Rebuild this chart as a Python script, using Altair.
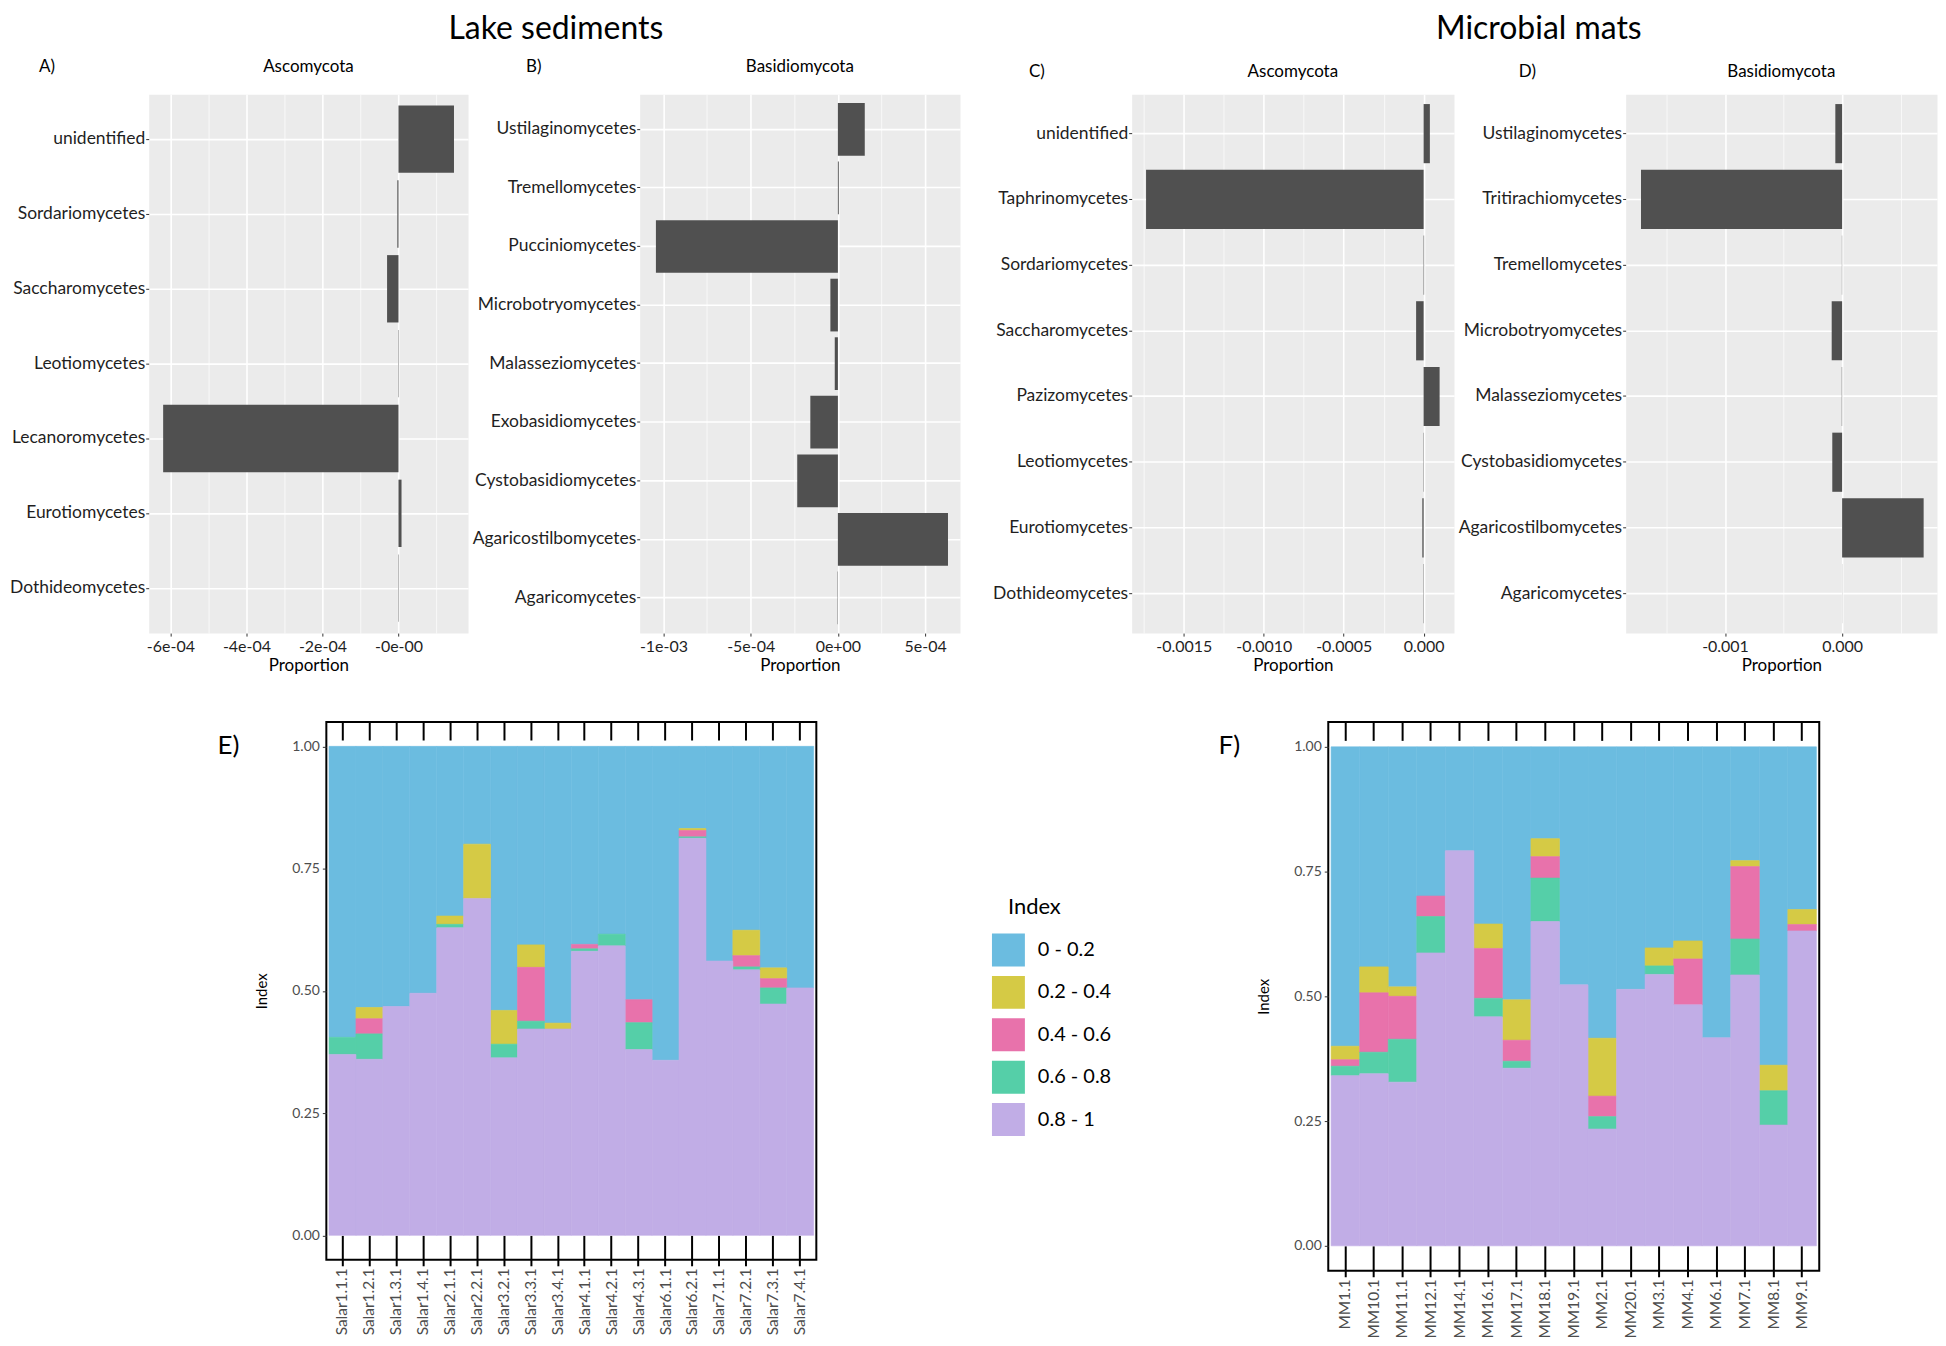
import json
import altair as alt
import pandas as pd

# ---------------- Top panels: data ----------------
a_classes = ["unidentified", "Sordariomycetes", "Saccharomycetes", "Leotiomycetes",
             "Lecanoromycetes", "Eurotiomycetes", "Dothideomycetes"]
a_values = [1.46e-4, -3e-6, -3.0e-5, -1e-6, -6.19e-4, 8e-6, -1e-6]

b_classes = ["Ustilaginomycetes", "Tremellomycetes", "Pucciniomycetes", "Microbotryomycetes",
             "Malasseziomycetes", "Exobasidiomycetes", "Cystobasidiomycetes",
             "Agaricostilbomycetes", "Agaricomycetes"]
b_values = [1.54e-4, 5e-6, -1.043e-3, -4.3e-5, -1.8e-5, -1.58e-4, -2.33e-4, 6.31e-4, -2e-6]

c_classes = ["unidentified", "Taphrinomycetes", "Sordariomycetes", "Saccharomycetes",
             "Pazizomycetes", "Leotiomycetes", "Eurotiomycetes", "Dothideomycetes"]
c_values = [3.9e-5, -1.736e-3, 3e-6, -4.7e-5, 1.0e-4, 2e-6, -8e-6, -2e-6]

d_classes = ["Ustilaginomycetes", "Tritirachiomycetes", "Tremellomycetes", "Microbotryomycetes",
             "Malasseziomycetes", "Cystobasidiomycetes", "Agaricostilbomycetes", "Agaricomycetes"]
d_values = [-5.8e-5, -1.717e-3, -2e-6, -8.9e-5, -3e-6, -8.4e-5, 6.96e-4, -1e-6]

# axis ticks / labels of the top panels
a_major = [-6e-4, -4e-4, -2e-4, 0]
a_minor = [-5e-4, -3e-4, -1e-4, 1e-4]
a_labels = ["-6e-04", "-4e-04", "-2e-04", "-0e-00"]
b_major = [-1e-3, -5e-4, 0, 5e-4]
b_minor = [-7.5e-4, -2.5e-4, 2.5e-4]
b_labels = ["-1e-03", "-5e-04", "0e+00", "5e-04"]
c_major = [-1.5e-3, -1e-3, -5e-4, 0]
c_minor = [-1.75e-3, -1.25e-3, -7.5e-4, -2.5e-4]
c_labels = ["-0.0015", "-0.0010", "-0.0005", "0.000"]
d_major = [-1e-3, 0]
d_minor = [-1.5e-3, -5e-4, 5e-4]
d_labels = ["-0.001", "0.000"]

# ---------------- Bottom panels: data ----------------
index_classes = ["0 - 0.2", "0.2 - 0.4", "0.4 - 0.6", "0.6 - 0.8", "0.8 - 1"]
index_colors = ["#6BBCE0", "#D5CA45", "#E872AB", "#55CFA8", "#C1ADE6"]
stack_order = {"0.8 - 1": 0, "0.6 - 0.8": 1, "0.4 - 0.6": 2, "0.2 - 0.4": 3, "0 - 0.2": 4}

e_samples = ["Salar1.1.1", "Salar1.2.1", "Salar1.3.1", "Salar1.4.1", "Salar2.1.1", "Salar2.2.1",
             "Salar3.2.1", "Salar3.3.1", "Salar3.4.1", "Salar4.1.1", "Salar4.2.1", "Salar4.3.1",
             "Salar6.1.1", "Salar6.2.1", "Salar7.1.1", "Salar7.2.1", "Salar7.3.1", "Salar7.4.1"]
e_08_1 = [.370, .360, .468, .495, .629, .689, .363, .422, .422, .581, .592, .380, .358, .812, .561, .543, .473, .506]
e_06_08 = [.035, .052, 0, 0, .007, 0, .028, .016, 0, .005, .024, .055, 0, .003, 0, .006, .033, 0]
e_04_06 = [0, .031, 0, 0, 0, 0, 0, .110, 0, .009, 0, .047, 0, .013, 0, .023, .019, 0]
e_02_04 = [0, .023, 0, 0, .017, .111, .069, .046, .012, 0, 0, 0, 0, .004, 0, .052, .022, 0]
e_0_02 = [.595, .534, .532, .505, .347, .200, .540, .406, .566, .405, .384, .518, .642, .168, .439, .376, .453, .494]

f_samples = ["MM1.1", "MM10.1", "MM11.1", "MM12.1", "MM14.1", "MM16.1", "MM17.1", "MM18.1", "MM19.1",
             "MM2.1", "MM20.1", "MM3.1", "MM4.1", "MM6.1", "MM7.1", "MM8.1", "MM9.1"]
f_08_1 = [.341, .345, .328, .587, .792, .459, .356, .650, .523, .234, .514, .544, .483, .417, .543, .242, .631]
f_06_08 = [.019, .043, .086, .073, 0, .037, .014, .087, 0, .025, 0, .017, 0, 0, .072, .069, 0]
f_04_06 = [.013, .119, .086, .041, 0, .100, .042, .043, 0, .041, 0, 0, .092, 0, .145, 0, .013]
f_02_04 = [.027, .052, .019, 0, 0, .049, .081, .036, 0, .116, 0, .036, .036, 0, .012, .051, .030]
f_0_02 = [.600, .441, .481, .299, .208, .355, .507, .184, .477, .584, .486, .403, .389, .583, .228, .638, .326]

FONT = "Lato"
LABEL = "#1F1F1F"


def txt(s, x, y, size, align="left", baseline="middle"):
    return alt.Chart(pd.DataFrame({"t": [s]})).mark_text(
        align=align, baseline=baseline, fontSize=size, color="black", font=FONT
    ).encode(text="t:N", x=alt.value(x), y=alt.value(y))


def top_panel(classes, values, domain, majors, minors, labels, width,
              letter, letter_dx, title_dy, title, extra=None):
    df = pd.DataFrame({"cls": classes, "val": values})
    ticks = sorted(majors + minors)
    maj = json.dumps(majors)
    lab = json.dumps(labels)
    test = f"indexof({maj}, datum.value) >= 0"
    xaxis = alt.Axis(
        values=ticks,
        labelExpr=f"{test} ? {lab}[indexof({maj}, datum.value)] : ''",
        grid=True, gridColor="white",
        gridWidth={"condition": {"test": test, "value": 1.6}, "value": 0.7},
        tickOpacity={"condition": {"test": test, "value": 1}, "value": 0},
        tickSize=3, tickColor="#333333", labelFontSize=16, labelColor=LABEL,
        labelPadding=2, labelOverlap=False, labelFlush=False, domain=False,
        title="Proportion", titleFontSize=17, titleFontWeight="normal",
        titleColor="black", titlePadding=3,
    )
    yaxis = alt.Axis(
        title=None, grid=True, gridColor="white", gridWidth=1.6, tickSize=3,
        tickColor="#333333", labelFontSize=17.5, labelColor=LABEL, labelPadding=1,
        domain=False, bandPosition=0.5,
    )
    bars = alt.Chart(df).mark_bar(color="#505050").encode(
        x=alt.X("val:Q", scale=alt.Scale(domain=domain, nice=False, zero=False), axis=xaxis),
        y=alt.Y("cls:N", sort=classes,
                scale=alt.Scale(paddingInner=0.1, paddingOuter=0.15), axis=yaxis),
    )
    layers = [bars, txt(letter, letter_dx, title_dy, 17),
              txt(title, width / 2, title_dy, 17, align="center")]
    if extra is not None:
        layers.append(txt(extra[0], extra[1], -80, 32, align="center", baseline="top"))
    return alt.layer(*layers).properties(
        width=width, height=540,
        view=alt.ViewBackground(fill="#EBEBEB", stroke="transparent"),
    )


def index_panel(samples, comps, width, height, letter, letter_dx, with_legend):
    rows = []
    for cls, arr in zip(index_classes, comps):
        for s, v in zip(samples, arr):
            if v > 0:
                rows.append({"sample": s, "cls": cls, "val": v, "ord": stack_order[cls]})
    df = pd.DataFrame(rows)
    off_b = 0.05 / 1.1 * height
    off_t = 0.037 / 1.1 * height
    xscale = alt.Scale(type="band", paddingInner=0, paddingOuter=0.1)
    if with_legend:
        legend = alt.Legend(orient="none", legendX=667, legendY=212, title=None,
                            symbolType="square", symbolSize=1089, symbolStrokeWidth=0,
                            symbolOpacity=1, labelFontSize=20, labelColor="black",
                            labelFont=FONT, rowPadding=9.5, labelOffset=13, padding=0)
    else:
        legend = None
    cscale = alt.Scale(domain=index_classes, range=index_colors)
    bars = alt.Chart(df).mark_bar(strokeWidth=0.6).encode(
        x=alt.X("sample:N", sort=samples, scale=xscale, title=None,
                axis=alt.Axis(orient="bottom", offset=-off_b, tickSize=off_b + 6,
                              tickColor="black", tickWidth=2, domain=False, grid=False,
                              labelAngle=270, labelFontSize=15.5, labelColor="#4D4D4D",
                              labelPadding=2)),
        y=alt.Y("val:Q", stack="zero",
                scale=alt.Scale(domain=[-0.05, 1.05], nice=False, zero=False),
                axis=alt.Axis(values=[0, 0.25, 0.5, 0.75, 1], format=".2f", tickSize=4,
                              tickColor="#333333", labelColor="#4D4D4D", labelFontSize=14,
                              domain=False, grid=False, title="Index", titleFontSize=15,
                              titleFontWeight="normal", titleColor="black",
                              titlePadding=22, labelPadding=3)),
        color=alt.Color("cls:N", scale=cscale, legend=legend),
        stroke=alt.Stroke("cls:N", scale=cscale, legend=None),
        order=alt.Order("ord:Q", sort="ascending"),
    )
    topax = alt.Chart(pd.DataFrame({"sample": samples})).mark_point(opacity=0).encode(
        x=alt.X("sample:N", sort=samples, scale=xscale, title=None,
                axis=alt.Axis(orient="top", offset=-off_t, tickSize=off_t,
                              tickColor="black", tickWidth=2, labels=False,
                              domain=False, grid=False)),
        y=alt.value(0),
    )
    layers = [bars, topax, txt(letter, letter_dx, 24, 26)]
    if with_legend:
        layers.append(txt("Index", 683, 185, 22))
    return alt.layer(*layers).resolve_axis(x="independent").properties(
        width=width, height=height,
        view=alt.ViewBackground(stroke="black", strokeWidth=2),
    )


def spacer(w, h):
    return alt.Chart(pd.DataFrame({"a": [0]})).mark_point(opacity=0).encode(
        x=alt.value(0), y=alt.value(0)
    ).properties(width=w, height=h, view=alt.ViewBackground(stroke="transparent"))


A = top_panel(a_classes, a_values, [-6.57e-4, 1.83e-4], a_major, a_minor, a_labels, 320,
              "A)", -110, -27, "Ascomycota", extra=("Lake sediments", 408))
B = top_panel(b_classes, b_values, [-1.136e-3, 7.0e-4], b_major, b_minor, b_labels, 321,
              "B)", -114, -27, "Basidiomycota")
C = top_panel(c_classes, c_values, [-1.826e-3, 1.9e-4], c_major, c_minor, c_labels, 323,
              "C)", -103, -22, "Ascomycota", extra=("Microbial mats", 408))
D = top_panel(d_classes, d_values, [-1.848e-3, 8.1e-4], d_major, d_minor, d_labels, 312,
              "D)", -107, -22, "Basidiomycota")

E = index_panel(e_samples, [e_0_02, e_02_04, e_04_06, e_06_08, e_08_1], 491, 539,
                "E)", -109, True)
F = index_panel(f_samples, [f_0_02, f_02_04, f_04_06, f_06_08, f_08_1], 492, 550,
                "F)", -110, False)

row1 = alt.hconcat(A, B, C, D, spacing=172, bounds="flush").resolve_scale(
    x="independent", y="independent")
row2 = alt.hconcat(spacer(6, 539), E, spacer(169, 539), F, spacing=172,
                   bounds="flush").resolve_scale(
    x="independent", y="independent", color="independent", stroke="independent")

chart = alt.vconcat(row1, row2, spacing=44).resolve_scale(
    x="independent", y="independent", color="independent", stroke="independent"
).properties(padding={"top": 3, "left": 0, "right": 0, "bottom": 0}).configure(font=FONT)

chart.save("out.html", embed_options={"renderer": "svg", "actions": False})
